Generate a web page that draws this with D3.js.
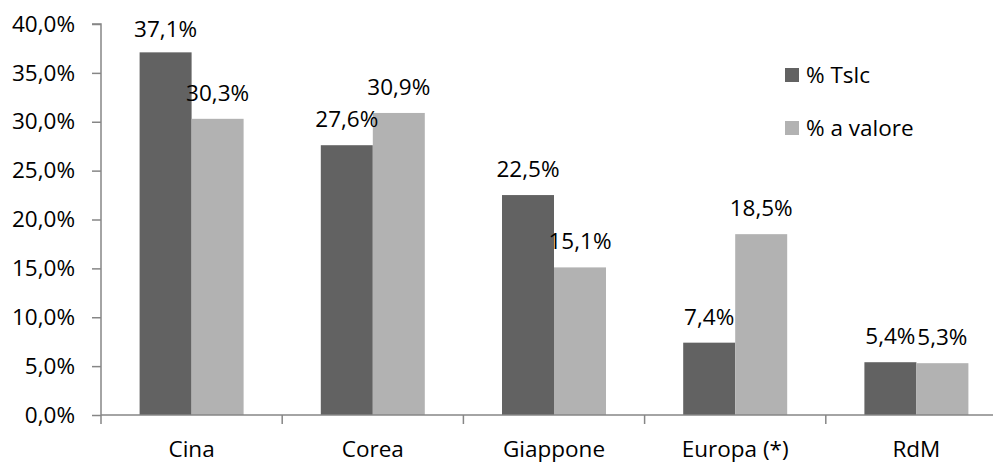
<!DOCTYPE html>
<html><head><meta charset="utf-8">
<script src="https://cdn.jsdelivr.net/npm/d3@7"></script>
<style>body{margin:0;background:#fff}svg{display:block;font-family:"Open Sans",sans-serif}</style>
</head><body><svg id="c" width="993" height="463"></svg>
<script>
const categories = ["Cina","Corea","Giappone","Europa (*)","RdM"];
const seriesNames = ["% Tslc","% a valore"];
const tslc = [37.1,27.6,22.5,7.4,5.4];
const valore = [30.3,30.9,15.1,18.5,5.3];
const yTicks = [0,5,10,15,20,25,30,35,40];
const colors = ["#626262","#b2b2b2"];

const svg = d3.select("#c");
const x0 = 101, yBase = 415, yTop = 24;
const band = 181.2;
const x = d3.scaleBand().domain(categories).range([x0, x0 + band*categories.length]).paddingInner(0).paddingOuter(0);
const y = d3.scaleLinear().domain([0,40]).range([yBase, yTop]);
const fmt = v => v.toFixed(1).replace(".", ",") + "%";
const fs = 22.5;
const axisColor = "#868686";

// y axis
const ya = svg.append("g").attr("transform",`translate(${x0},0)`)
  .call(d3.axisLeft(y).tickValues(yTicks).tickSize(9).tickPadding(17).tickFormat(fmt));
ya.select(".domain").attr("stroke",axisColor).attr("stroke-width",1.5).attr("d",`M-9,${y(40)}H0V${yBase}`);
ya.selectAll(".tick line").attr("stroke",axisColor).attr("stroke-width",1.5);
ya.selectAll(".tick text").attr("font-size",fs).attr("fill","#000").attr("font-family","Open Sans");

// bars
const barW = 52;
const series = [tslc, valore];
series.forEach((vals, si) => {
  svg.append("g").selectAll("rect").data(vals).join("rect")
    .attr("x",(d,i)=> x(categories[i]) + x.bandwidth()/2 - barW + si*barW)
    .attr("width",barW)
    .attr("y",d=>y(d)).attr("height",d=>yBase - y(d))
    .attr("fill",colors[si]);
});

// x axis
const xa = svg.append("g").attr("transform",`translate(0,${yBase})`)
  .call(d3.axisBottom(x).tickSize(0).tickPadding(26));
xa.select(".domain").attr("stroke",axisColor).attr("stroke-width",1.5).attr("d",`M${x0},0H993`);
xa.selectAll(".tick text").attr("font-size",fs).attr("fill","#000").attr("font-family","Open Sans");
// tick marks between categories
svg.append("g").selectAll("line").data(categories).join("line")
  .attr("x1",d=>x(d)).attr("x2",d=>x(d)).attr("y1",yBase).attr("y2",yBase+9)
  .attr("stroke",axisColor).attr("stroke-width",1.5);

// data labels
series.forEach((vals, si) => {
  svg.append("g").selectAll("text").data(vals).join("text")
    .attr("x",(d,i)=> x(categories[i]) + x.bandwidth()/2 - barW/2 + si*barW)
    .attr("y",d=>Math.max(y(d) - 18, 37))
    .attr("text-anchor","middle").attr("font-size",fs).attr("fill","#000")
    .text(fmt);
});

// legend
const lg = svg.append("g");
seriesNames.forEach((n,i)=>{
  const yy = 68 + i*53;
  lg.append("rect").attr("x",785).attr("y",yy).attr("width",14).attr("height",14).attr("fill",colors[i]);
  lg.append("text").attr("x",806).attr("y",yy+15).attr("font-size",fs).attr("fill","#000").text(n);
});
</script></body></html>
